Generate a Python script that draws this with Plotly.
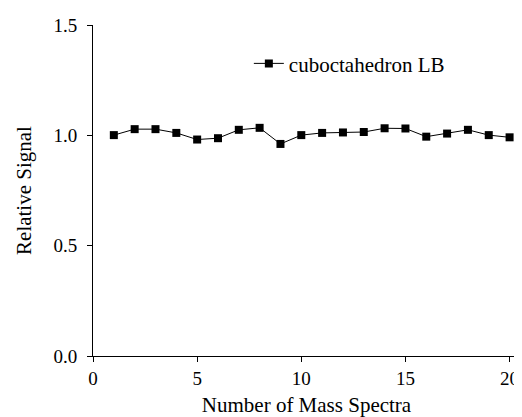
import plotly.graph_objects as go

spectra = list(range(1, 21))
signal = [1.001, 1.028, 1.028, 1.011, 0.981, 0.987, 1.025, 1.034, 0.961, 1.001,
          1.011, 1.013, 1.015, 1.032, 1.031, 0.994, 1.008, 1.025, 1.001, 0.991]
series_name = "cuboctahedron LB"

FAMILY = "Liberation Serif"

fig = go.Figure()
fig.add_trace(go.Scatter(
    x=spectra, y=signal, mode="lines+markers", name=series_name,
    line=dict(color="black", width=1),
    marker=dict(symbol="square", size=8, color="black"),
))

fig.update_layout(
    width=514, height=409,
    margin=dict(l=85, r=2, t=17, b=61),
    paper_bgcolor="white", plot_bgcolor="white",
    font=dict(family=FAMILY, size=19, color="black"),
    showlegend=True,
    legend=dict(x=0.365, y=0.883, xanchor="left", yanchor="middle",
                bgcolor="rgba(0,0,0,0)", font=dict(family=FAMILY, size=21)),
    xaxis=dict(range=[0, 20.5], tickmode="array", tickvals=[0, 5, 10, 15, 20],
               tickfont=dict(family=FAMILY, size=19),
               showline=True, linecolor="black", linewidth=1,
               ticks="outside", ticklen=5, tickcolor="black",
               showgrid=False, zeroline=False,
               title=dict(text="Number of Mass Spectra",
                          font=dict(family=FAMILY, size=21), standoff=13)),
    yaxis=dict(range=[0, 1.5], tickmode="array", tickvals=[0, 0.5, 1.0, 1.5],
               tickformat=".1f", tickfont=dict(family=FAMILY, size=19),
               ticklabelstandoff=6,
               showline=True, linecolor="black", linewidth=1,
               ticks="outside", ticklen=5, tickcolor="black",
               showgrid=False, zeroline=False,
               title=dict(text="Relative Signal",
                          font=dict(family=FAMILY, size=21), standoff=16)),
)

fig.write_html("out.html")
